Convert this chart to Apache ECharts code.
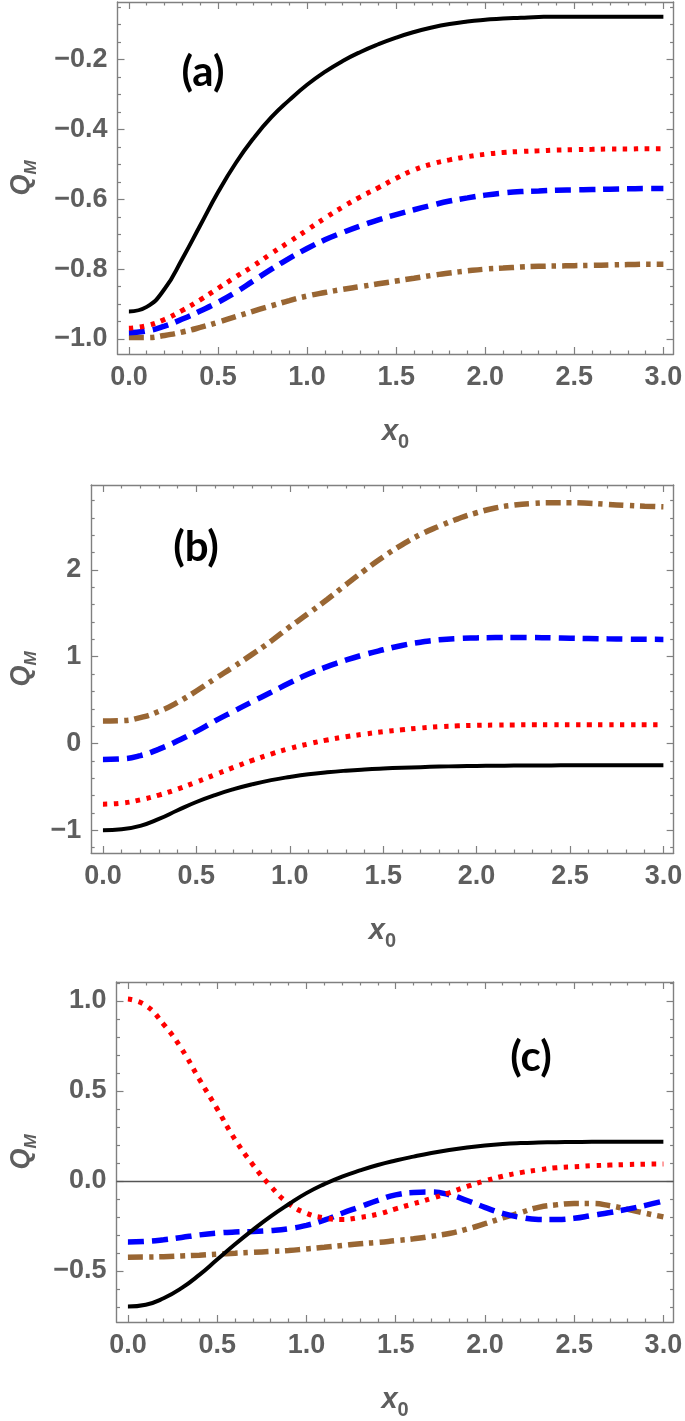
<!DOCTYPE html>
<html>
<head>
<meta charset="utf-8">
<script src="https://cdn.jsdelivr.net/npm/echarts@6/dist/echarts.min.js"></script>
<style>
html,body{margin:0;padding:0;background:#fff;}
#chart{width:685px;height:1421px;}
</style>
</head>
<body>
<div id="chart"></div>
<script>
// ---------- data ----------
const xs = [0,0.1,0.2,0.3,0.4,0.5,0.6,0.7,0.8,0.9,1.0,1.1,1.2,1.3,1.4,1.5,1.6,1.7,1.8,1.9,2.0,2.1,2.2,2.3,2.4,2.5,2.6,2.7,2.8,2.9,3.0];

// panel (a)
const blackA = [-0.921,-0.908,-0.857,-0.77,-0.675,-0.58,-0.496,-0.425,-0.365,-0.316,-0.272,-0.235,-0.204,-0.178,-0.156,-0.137,-0.121,-0.108,-0.098,-0.091,-0.086,-0.082,-0.08,-0.078,-0.077,-0.077,-0.077,-0.077,-0.077,-0.077,-0.077];
const redA   = [-0.969,-0.962,-0.944,-0.918,-0.888,-0.855,-0.822,-0.79,-0.755,-0.722,-0.688,-0.654,-0.622,-0.593,-0.567,-0.54,-0.516,-0.499,-0.487,-0.478,-0.471,-0.466,-0.463,-0.461,-0.459,-0.458,-0.457,-0.456,-0.456,-0.455,-0.455];
const blueA  = [-0.982,-0.977,-0.963,-0.943,-0.92,-0.895,-0.866,-0.833,-0.8,-0.769,-0.741,-0.716,-0.695,-0.676,-0.659,-0.644,-0.63,-0.617,-0.605,-0.596,-0.588,-0.582,-0.578,-0.576,-0.574,-0.573,-0.572,-0.571,-0.570,-0.569,-0.569];
const brownA = [-0.996,-0.996,-0.99,-0.98,-0.967,-0.952,-0.936,-0.92,-0.905,-0.89,-0.877,-0.867,-0.858,-0.85,-0.842,-0.834,-0.826,-0.818,-0.811,-0.805,-0.80,-0.797,-0.794,-0.792,-0.791,-0.79,-0.789,-0.788,-0.787,-0.786,-0.786];

// panel (b)
const blackB = [-1.0,-0.99,-0.95,-0.87,-0.77,-0.675,-0.595,-0.527,-0.47,-0.423,-0.386,-0.355,-0.332,-0.314,-0.3,-0.289,-0.28,-0.273,-0.267,-0.262,-0.259,-0.257,-0.255,-0.254,-0.253,-0.252,-0.251,-0.251,-0.25,-0.25,-0.25];
const redB   = [-0.70,-0.688,-0.65,-0.595,-0.525,-0.445,-0.36,-0.275,-0.195,-0.122,-0.058,-0.005,0.04,0.077,0.108,0.135,0.158,0.178,0.193,0.203,0.209,0.212,0.214,0.215,0.215,0.215,0.215,0.215,0.215,0.215,0.215];
const blueB  = [-0.185,-0.178,-0.14,-0.065,0.03,0.14,0.26,0.372,0.482,0.59,0.70,0.80,0.886,0.96,1.025,1.08,1.13,1.168,1.195,1.21,1.217,1.221,1.222,1.221,1.218,1.214,1.21,1.206,1.203,1.201,1.2];
const brownB = [0.258,0.262,0.298,0.37,0.475,0.605,0.747,0.885,1.03,1.18,1.345,1.5,1.66,1.83,1.995,2.15,2.29,2.41,2.505,2.59,2.66,2.715,2.748,2.767,2.775,2.776,2.77,2.757,2.745,2.735,2.728];

// panel (c)
const blackC = [-0.698,-0.688,-0.652,-0.596,-0.522,-0.437,-0.352,-0.272,-0.197,-0.13,-0.068,-0.018,0.024,0.058,0.088,0.113,0.135,0.155,0.172,0.186,0.197,0.205,0.21,0.213,0.215,0.216,0.217,0.217,0.218,0.218,0.218];
const redC   = [1.01,0.975,0.87,0.735,0.565,0.40,0.23,0.09,-0.03,-0.125,-0.18,-0.205,-0.214,-0.203,-0.185,-0.155,-0.127,-0.098,-0.066,-0.031,0.0,0.026,0.046,0.061,0.073,0.079,0.084,0.088,0.091,0.093,0.094];
const blueC  = [-0.339,-0.336,-0.327,-0.314,-0.300,-0.29,-0.284,-0.281,-0.276,-0.266,-0.247,-0.218,-0.18,-0.144,-0.108,-0.078,-0.065,-0.062,-0.077,-0.109,-0.147,-0.181,-0.203,-0.214,-0.215,-0.208,-0.192,-0.176,-0.157,-0.136,-0.112];
const brownC = [-0.424,-0.423,-0.421,-0.417,-0.413,-0.407,-0.402,-0.397,-0.392,-0.387,-0.378,-0.369,-0.359,-0.349,-0.342,-0.332,-0.322,-0.308,-0.292,-0.268,-0.238,-0.206,-0.176,-0.147,-0.133,-0.126,-0.126,-0.138,-0.158,-0.18,-0.2];

// tick values
const xMajor = [0,0.5,1.0,1.5,2.0,2.5,3.0];
const xMinor = [0.1,0.2,0.3,0.4,0.6,0.7,0.8,0.9,1.1,1.2,1.3,1.4,1.6,1.7,1.8,1.9,2.1,2.2,2.3,2.4,2.6,2.7,2.8,2.9];
const yMajorA = [-1.0,-0.8,-0.6,-0.4,-0.2];
const yMinorA = [-0.95,-0.9,-0.85,-0.75,-0.7,-0.65,-0.55,-0.5,-0.45,-0.35,-0.3,-0.25,-0.15,-0.1,-0.05];
const yMajorB = [-1,0,1,2];
const yMinorB = [-1.2,-0.8,-0.6,-0.4,-0.2,0.2,0.4,0.6,0.8,1.2,1.4,1.6,1.8,2.2,2.4,2.6,2.8];
const yMajorC = [-0.5,0,0.5,1.0];
const yMinorC = [-0.7,-0.6,-0.4,-0.3,-0.2,-0.1,0.1,0.2,0.3,0.4,0.6,0.7,0.8,0.9,1.1];

// ---------- styling ----------
const frameColor = '#808080';
const labelColor = '#5e5e5e';
const labelFont = {color: labelColor, fontFamily: 'Liberation Sans', fontWeight: 'bold', fontSize: 27};
const minus = s => s.replace('-', '\u2212');

const panels = [
  {grid:{left:109, top:2, width:568, height:352}, xr:[-0.064,3.057], yr:[-1.043,-0.035],
   yMaj:yMajorA, yMin:yMinorA, yFmt:v=>minus(v.toFixed(1)), yGap:78, ys:[blackA,redA,blueA,brownA]},
  {grid:{left:82, top:485, width:595, height:368}, xr:[-0.063,3.055], yr:[-1.263,2.98],
   yMaj:yMajorB, yMin:yMinorB, yFmt:v=>minus(v.toFixed(0)), yGap:51, ys:[blackB,redB,blueB,brownB]},
  {grid:{left:108, top:982, width:568, height:353}, xr:[-0.064,3.057], yr:[-0.784,1.105],
   yMaj:yMajorC, yMin:yMinorC, yFmt:v=>minus(v.toFixed(1)), yGap:77, ys:[blackC,redC,blueC,brownC]}
];

const styles = [
  {color:'#000000', width:4, type:'solid'},
  {color:'#ff0000', width:5, type:[4.5,6.5]},
  {color:'#0000ff', width:5.5, type:[16,8]},
  {color:'#996633', width:5.5, type:[15,6,4.5,6]}
];

const grids = [], xAxes = [], yAxes = [], series = [];

function axisBase(g, pos, range, vals, isMajor, showLabel, fmt, extra) {
  const a = {
    type:'value', gridIndex:g, position:pos, min:range[0], max:range[1],
    axisLine:{show:isMajor, onZero:false, lineStyle:{color:frameColor, width:1.4}},
    axisTick:{show:true, inside:true, length:isMajor?7:3.5, customValues:vals, lineStyle:{color:frameColor, width:1.2}},
    axisLabel:{show:showLabel, customValues:vals, formatter:fmt, margin:10, ...labelFont},
    splitLine:{show:false}, silent:true
  };
  return Object.assign(a, extra||{});
}

panels.forEach((p, g) => {
  grids.push(p.grid);
  const xName = {
    name:'{a|x}{b|0}', nameLocation:'middle', nameGap:58,
    nameTextStyle:{rich:{
      a:{fontSize:29, fontStyle:'italic', fontWeight:'bold', color:labelColor, fontFamily:'Liberation Sans', lineHeight:30, verticalAlign:'middle'},
      b:{fontSize:20, fontWeight:'bold', color:labelColor, fontFamily:'Liberation Sans', lineHeight:40, verticalAlign:'bottom'}
    }}
  };
  xAxes.push(axisBase(g,'bottom',p.xr,xMajor,true,true,v=>v.toFixed(1), xName));
  xAxes.push(axisBase(g,'bottom',p.xr,xMinor,false,false));
  xAxes.push(axisBase(g,'top',p.xr,xMajor,true,false));
  xAxes.push(axisBase(g,'top',p.xr,xMinor,false,false));
  const yName = {
    name:'{a|Q}{b|M}', nameLocation:'middle', nameGap:p.yGap, nameRotate:90,
    nameTextStyle:{rich:{
      a:{fontSize:27, fontStyle:'italic', fontWeight:'bold', color:labelColor, fontFamily:'Liberation Sans', lineHeight:28, verticalAlign:'middle'},
      b:{fontSize:17, fontStyle:'italic', fontWeight:'bold', color:labelColor, fontFamily:'Liberation Sans', lineHeight:36, verticalAlign:'bottom'}
    }}
  };
  yAxes.push(axisBase(g,'left',p.yr,p.yMaj,true,true,p.yFmt, yName));
  yAxes.push(axisBase(g,'left',p.yr,p.yMin,false,false));
  yAxes.push(axisBase(g,'right',p.yr,p.yMaj,true,false));
  yAxes.push(axisBase(g,'right',p.yr,p.yMin,false,false));

  p.ys.forEach((ys, k) => {
    const s = {
      type:'line', xAxisIndex:g*4, yAxisIndex:g*4, smooth:0.5, symbol:'none', silent:true,
      data: xs.map((x,i)=>[x, ys[i]]),
      lineStyle:{color:styles[k].color, width:styles[k].width, type:styles[k].type, cap:'butt'},
      z: 3 + (3-k)
    };
    if (g === 2 && k === 0) {
      s.markLine = {silent:true, symbol:'none', label:{show:false},
        lineStyle:{color:'#555555', width:1.3, type:'solid'}, data:[{yAxis:0}], z:1};
    }
    series.push(s);
  });
});

const panelLabels = [
  {text:'(a)', x:203, y:72},
  {text:'(b)', x:196, y:547},
  {text:'(c)', x:531, y:1057}
];

const chart = echarts.init(document.getElementById('chart'), null, {renderer:'canvas'});
chart.setOption({
  animation:false,
  backgroundColor:'#ffffff',
  grid:grids,
  xAxis:xAxes,
  yAxis:yAxes,
  series:series,
  graphic:panelLabels.map(l=>({type:'text', x:l.x, y:l.y, z:100,
    style:{text:l.text, fill:'#000', fontSize:42, fontWeight:'bold', fontFamily:'Lato', align:'center', verticalAlign:'middle'}}))
});
</script>
</body>
</html>
